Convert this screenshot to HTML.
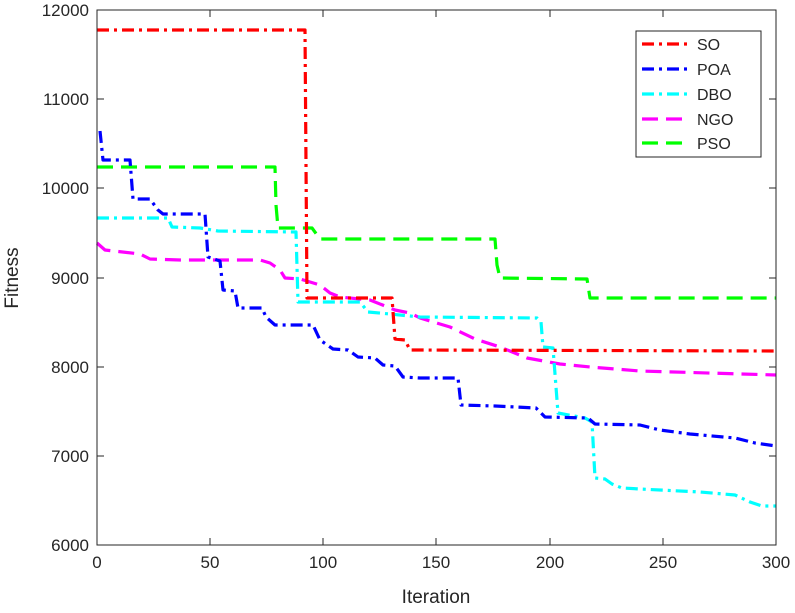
<!DOCTYPE html>
<html><head><meta charset="utf-8"><style>
html,body{margin:0;padding:0;background:#fff;}
svg text{font-family:"Liberation Sans",Arial,sans-serif;fill:#262626;}
</style></head><body>
<svg width="795" height="608" viewBox="0 0 795 608" xmlns="http://www.w3.org/2000/svg">
<rect x="0" y="0" width="795" height="608" fill="#fff"/>
<g fill="none" stroke-width="3.2" stroke-linejoin="round">
<!-- PSO -->
<polyline stroke="#00ff00" stroke-dasharray="16,8" points="97,167 275,167 276,205 278,228 312,228 320,239 495,239 497,265 500,278 587,279 590,298 776,298"/>
<!-- NGO -->
<polyline stroke="#ff00ff" stroke-dasharray="16,8" points="97,243 105,250 140,254 150,259 180,260 260,260 270,263 280,270 285,278 300,279 320,285 330,293 340,297 370,300 395,310 410,313 420,318 450,327 475,339 500,347 527,358 560,364 590,367 640,371 776,375"/>
<!-- DBO -->
<polyline stroke="#00ffff" stroke-dasharray="12,5,3,5" points="97,218 168,218 172,227 200,228 218,231 296,232 298,302 360,302 368,312 390,314 420,317 537,318 541,322 543,347 553,348 558,413 585,418 592,422 595,478 605,479 612,484 622,488 640,489 700,492 735,495 750,502 762,506 776,506"/>
<!-- POA -->
<polyline stroke="#0000ff" stroke-dasharray="12,5,3,5" points="100,131 103,160 130,160 133,199 150,199 158,210 163,214 205,214 208,257 220,261 223,290 235,291 238,308 262,308 266,317 275,325 313,325 320,340 333,349 348,350 358,357 375,358 383,365 395,366 403,377 420,378 458,378 461,405 495,406 536,408 545,417 588,418 595,424 640,425 660,430 690,434 735,438 755,443 776,446"/>
<!-- SO -->
<polyline stroke="#ff0000" stroke-dasharray="12,5,3,5" points="97,30 305,30 307,298 392,298 395,339 405,340 410,350 776,351"/>
</g>
<!-- axes box -->
<rect x="97" y="10" width="679" height="535" fill="none" stroke="#262626" stroke-width="1"/>
<g stroke="#262626" stroke-width="1">
<line x1="97" y1="545" x2="97" y2="538"/><line x1="210" y1="545" x2="210" y2="538"/><line x1="323" y1="545" x2="323" y2="538"/><line x1="436" y1="545" x2="436" y2="538"/><line x1="550" y1="545" x2="550" y2="538"/><line x1="663" y1="545" x2="663" y2="538"/>
<line x1="97" y1="10" x2="97" y2="17"/><line x1="210" y1="10" x2="210" y2="17"/><line x1="323" y1="10" x2="323" y2="17"/><line x1="436" y1="10" x2="436" y2="17"/><line x1="550" y1="10" x2="550" y2="17"/><line x1="663" y1="10" x2="663" y2="17"/>
<line x1="97" y1="456" x2="104" y2="456"/><line x1="97" y1="367" x2="104" y2="367"/><line x1="97" y1="278" x2="104" y2="278"/><line x1="97" y1="188" x2="104" y2="188"/><line x1="97" y1="99" x2="104" y2="99"/>
<line x1="776" y1="456" x2="769" y2="456"/><line x1="776" y1="367" x2="769" y2="367"/><line x1="776" y1="278" x2="769" y2="278"/><line x1="776" y1="188" x2="769" y2="188"/><line x1="776" y1="99" x2="769" y2="99"/>
</g>
<g font-size="17" text-anchor="middle">
<text x="97" y="568">0</text><text x="210" y="568">50</text><text x="323" y="568">100</text><text x="436" y="568">150</text><text x="550" y="568">200</text><text x="663" y="568">250</text><text x="776" y="568">300</text>
</g>
<g font-size="17" text-anchor="end">
<text x="89" y="551">6000</text><text x="89" y="462">7000</text><text x="89" y="373">8000</text><text x="89" y="284">9000</text><text x="89" y="194">10000</text><text x="89" y="105">11000</text><text x="89" y="16">12000</text>
</g>
<text x="436" y="603" font-size="19" text-anchor="middle">Iteration</text>
<text x="18" y="278" font-size="19" text-anchor="middle" transform="rotate(-90 18 278)">Fitness</text>
<!-- legend -->
<rect x="636" y="31" width="125" height="126" fill="#fff" stroke="#262626" stroke-width="1"/>
<g fill="none" stroke-width="3.2">
<line x1="642" y1="44" x2="690" y2="44" stroke="#ff0000" stroke-dasharray="12,5,3,5"/>
<line x1="642" y1="69" x2="690" y2="69" stroke="#0000ff" stroke-dasharray="12,5,3,5"/>
<line x1="642" y1="94" x2="690" y2="94" stroke="#00ffff" stroke-dasharray="12,5,3,5"/>
<line x1="642" y1="119" x2="690" y2="119" stroke="#ff00ff" stroke-dasharray="16,8"/>
<line x1="642" y1="143" x2="690" y2="143" stroke="#00ff00" stroke-dasharray="16,8"/>
</g>
<g font-size="16">
<text x="697" y="50">SO</text><text x="697" y="75">POA</text><text x="697" y="100">DBO</text><text x="697" y="125">NGO</text><text x="697" y="149">PSO</text>
</g>
</svg>
</body></html>
